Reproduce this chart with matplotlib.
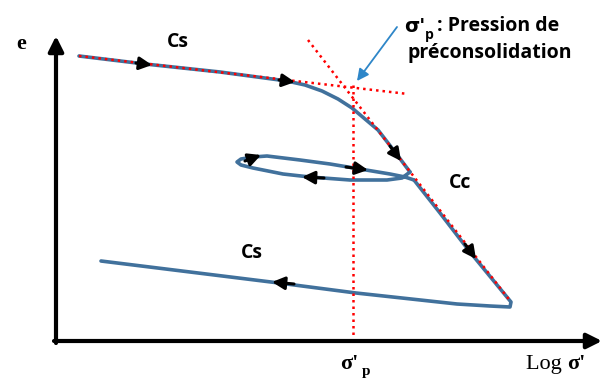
import matplotlib.pyplot as plt

# Courbe oedométrique schématique (coordonnées, repère pixel)
# chargement : Cs puis Cc
load_x = [79, 145, 220, 287, 305, 322, 338, 352, 365, 378, 395, 410]
load_y = [56, 64, 72, 81, 85, 91, 99, 108, 119, 130, 152, 172]

# boucle déchargement / rechargement
loop_x = [410, 402, 387, 350, 310, 283, 253, 241, 237, 241, 253, 267, 300, 330, 360, 390, 405, 414]
loop_y = [172, 178, 180, 180, 177, 174, 168, 165, 162, 159, 157, 156, 160, 164, 169, 174, 177, 180]

# suite du chargement (Cc) puis déchargement final (Cs)
unload_x = [414, 440, 470, 511, 510, 490, 457, 356, 279, 101]
unload_y = [180, 213, 252, 302, 307, 306, 304, 293, 283, 261]

# droites de construction (pointillés rouges)
cs_ref_x = [79, 408]
cs_ref_y = [56, 94]
cc_ref_x = [308, 511]
cc_ref_y = [40, 302]
sp_x = [353, 353]
sp_y = [85, 341]

# flèches de sens de parcours : (queue, tête)
arrows = [
    ((136, 63), (152, 65)),
    ((279, 80), (295, 82)),
    ((390, 146), (401, 161)),
    ((465, 244), (476, 259)),
    ((324, 178), (302, 177)),
    ((245, 161), (261, 155)),
    ((346, 167), (368, 170)),
    ((294, 284), (272, 282)),
]

blue = '#41719C'
red = '#FF0000'

fig = plt.figure(figsize=(6.08, 3.81), dpi=100)
ax = fig.add_axes([0, 0, 1, 1])
ax.set_xlim(0, 608)
ax.set_ylim(381, 0)
ax.axis('off')

# axes
ax.annotate('', xy=(56, 36), xytext=(56, 343),
            arrowprops=dict(arrowstyle='-|>,head_length=0.9,head_width=0.45',
                            color='black', lw=3, shrinkA=0, shrinkB=0))
ax.annotate('', xy=(602, 341), xytext=(54, 341),
            arrowprops=dict(arrowstyle='-|>,head_length=0.9,head_width=0.45',
                            color='black', lw=3, shrinkA=0, shrinkB=0))

# courbes
for xs, ys in [(load_x, load_y), (loop_x, loop_y), (unload_x, unload_y)]:
    ax.plot(xs, ys, color=blue, lw=2.6, solid_joinstyle='round',
            solid_capstyle='round')

# pointillés
for xs, ys in [(cs_ref_x, cs_ref_y), (cc_ref_x, cc_ref_y), (sp_x, sp_y)]:
    ax.plot(xs, ys, color=red, lw=1.8, linestyle=(0, (1, 1.6)))

for tail, head in arrows:
    ax.annotate('', xy=head, xytext=tail,
                arrowprops=dict(arrowstyle='-|>,head_length=0.75,head_width=0.38',
                                color='black', lw=2.2, shrinkA=0, shrinkB=0))

# flèche bleue vers le point de préconsolidation
ax.annotate('', xy=(357, 81), xytext=(397, 27),
            arrowprops=dict(arrowstyle='-|>,head_length=0.7,head_width=0.35',
                            color='#2E86C8', lw=1.3, shrinkA=0, shrinkB=0))

sans = 'Open Sans'
serif = 'Liberation Serif'

ax.text(21, 44, 'e', fontsize=16, fontweight='bold', family=serif,
        ha='center', va='center')
ax.text(178, 42, 'Cs', fontsize=14, fontweight='bold', family=sans,
        ha='center', va='center')
ax.text(460, 183, 'Cc', fontsize=14, fontweight='bold', family=sans,
        ha='center', va='center')
ax.text(252, 253, 'Cs', fontsize=14, fontweight='bold', family=sans,
        ha='center', va='center')

# légende du point de préconsolidation
ax.text(404, 26, "σ'", fontsize=14, fontweight='bold', family='DejaVu Sans',
        ha='left', va='center')
ax.text(425, 35, 'p', fontsize=10, fontweight='bold', family=sans,
        ha='left', va='center')
ax.text(437, 26, ': Pression de', fontsize=14, fontweight='bold', family=sans,
        ha='left', va='center')
ax.text(490, 53, 'préconsolidation', fontsize=14, fontweight='bold', family=sans,
        ha='center', va='center')

# légendes de l'axe des abscisses
ax.text(349, 364, "σ'", fontsize=16, fontweight='bold', family=serif,
        ha='center', va='center')
ax.text(366, 372, 'p', fontsize=11, fontweight='bold', family=serif,
        ha='center', va='center')
ax.text(567, 364, 'Log ', fontsize=16, family=serif, ha='right', va='center')
ax.text(567, 364, "σ'", fontsize=16, fontweight='bold', family=serif,
        ha='left', va='center')

fig.savefig('out.png', dpi=100)
